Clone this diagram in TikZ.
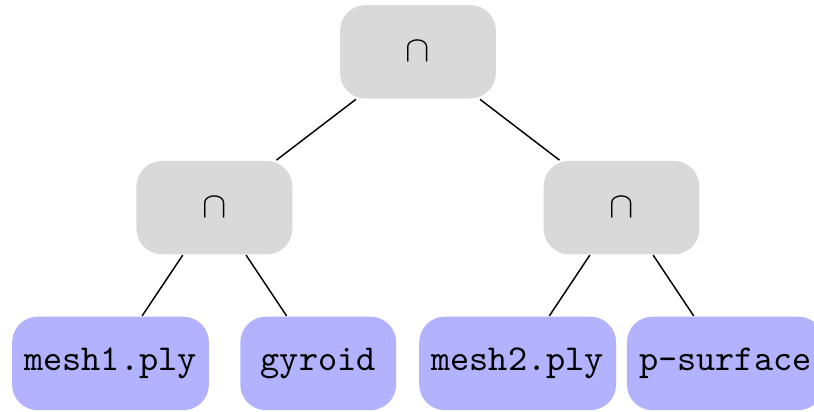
\documentclass[tikz,border=0pt]{standalone}
\usetikzlibrary{positioning}

\begin{document}
\begin{tikzpicture}[on grid,node distance=1.5cm,
      op node/.style={rectangle,rounded corners=7pt,fill=black!15,minimum width=1.5cm,minimum height=0.9cm},
      file node/.style={rectangle,rounded corners=7pt,fill=blue!30,minimum width=1.5cm,minimum height=0.9cm,font=\ttfamily}]

      \useasboundingbox (-114.5pt,14.2pt) rectangle (108.5pt,-98.6pt);

      \node[op node] (root) {$\cap$};
      \node[op node] (left) [below left=1.5cm and 1.96cm of root] {$\cap$};
      \node[op node] (right) [below right=1.5cm and 1.96cm of root] {$\cap$};

      \node[file node] (mesh1) [below left=1.5cm and 1cm of left] {mesh1.ply};
      \node[file node] (gyroid) [below right=1.5cm and 1cm of left] {gyroid};
      \node[file node] (mesh2) [below left=1.5cm and 1cm of right] {mesh2.ply};
      \node[file node] (psurf) [below right=1.5cm and 1cm of right] {p-surface};

      \path
        (root) edge (left)
               edge (right)
        (left) edge (mesh1)
               edge (gyroid)
        (right) edge (mesh2)
                edge (psurf);
    \end{tikzpicture}
\end{document}
